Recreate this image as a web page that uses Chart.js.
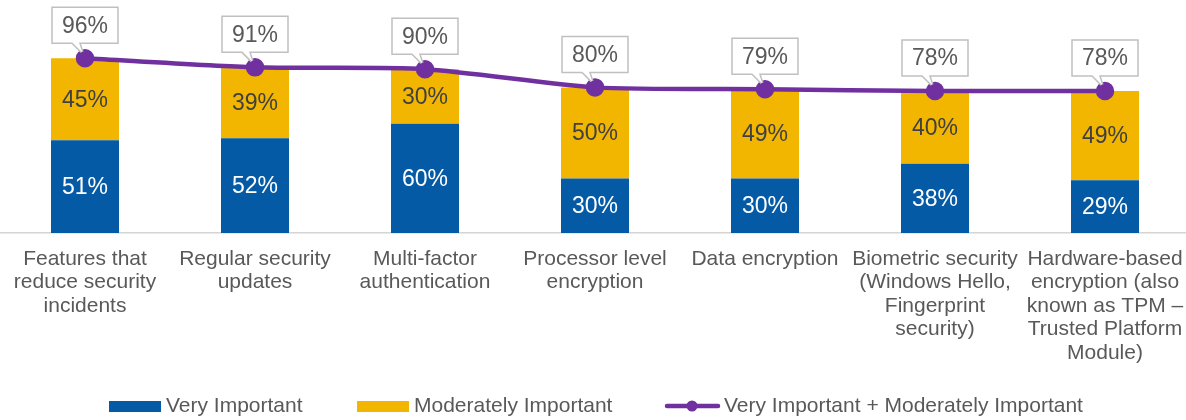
<!DOCTYPE html>
<html>
<head>
<meta charset="utf-8">
<script src="https://cdn.jsdelivr.net/npm/chart.js@4/dist/chart.umd.min.js"></script>
<style>
  html, body { margin: 0; padding: 0; background: #fff; overflow: hidden; }
  #wrap { width: 1190px; height: 420px; position: relative; }
</style>
</head>
<body>
<div id="wrap"><canvas id="c"></canvas></div>
<script>
const categories = [
  ["Features that", "reduce security", "incidents"],
  ["Regular security", "updates"],
  ["Multi-factor", "authentication"],
  ["Processor level", "encryption"],
  ["Data encryption"],
  ["Biometric security", "(Windows Hello,", "Fingerprint", "security)"],
  ["Hardware-based", "encryption (also", "known as TPM –", "Trusted Platform", "Module)"]
];
const veryImportant = [51, 52, 60, 30, 30, 38, 29];
const moderatelyImportant = [45, 39, 30, 50, 49, 40, 49];
const combined = [96, 91, 90, 80, 79, 78, 78];
const seriesNames = ["Very Important", "Moderately Important", "Very Important + Moderately Important"];

const BLUE = '#055AA6', YELLOW = '#F2B600', PURPLE = '#7030A0';
const FONT = '"Liberation Sans", Arial, sans-serif';

const labelsPlugin = {
  id: 'labelsPlugin',
  afterDatasetsDraw(chart) {
    const ctx = chart.ctx;
    ctx.save();
    ctx.font = '23px ' + FONT;
    ctx.textAlign = 'center';
    ctx.textBaseline = 'middle';
    [0, 1].forEach(di => {
      const meta = chart.getDatasetMeta(di);
      const data = chart.data.datasets[di].data;
      meta.data.forEach((el, i) => {
        const cy = (el.y + el.base) / 2;
        ctx.fillStyle = di === 0 ? '#ffffff' : '#404040';
        ctx.fillText(data[i] + '%', el.x, cy + 1);
      });
    });
    const lm = chart.getDatasetMeta(2);
    const ld = chart.data.datasets[2].data;
    lm.data.forEach((pt, i) => {
      const x = pt.x, y = pt.y;
      const w = 66, h = 36;
      const left = x - w / 2, bottom = y - 15, top = bottom - h;
      ctx.beginPath();
      ctx.moveTo(left, top);
      ctx.lineTo(left + w, top);
      ctx.lineTo(left + w, bottom);
      ctx.lineTo(x - 5, bottom);
      ctx.lineTo(x - 1, y - 3);
      ctx.lineTo(x - 13, bottom);
      ctx.lineTo(left, bottom);
      ctx.closePath();
      ctx.fillStyle = '#ffffff';
      ctx.fill();
      ctx.strokeStyle = '#c0c0c0';
      ctx.lineWidth = 1.5;
      ctx.stroke();
      ctx.fillStyle = '#595959';
      ctx.fillText(ld[i] + '%', x, top + h / 2 + 1);
    });
    lm.data.forEach(pt => {
      ctx.beginPath();
      ctx.arc(pt.x, pt.y, 7, 0, Math.PI * 2);
      ctx.fillStyle = PURPLE;
      ctx.fill();
    });
    ctx.restore();
  },
  afterDraw(chart) {
    const ctx = chart.ctx;
    ctx.save();
    ctx.font = '21px ' + FONT;
    ctx.textBaseline = 'middle';
    ctx.textAlign = 'left';
    const ly = 406;
    ctx.fillStyle = BLUE;
    ctx.fillRect(109, 401, 52, 11);
    ctx.fillStyle = '#595959';
    ctx.fillText(seriesNames[0], 166, ly);
    ctx.fillStyle = YELLOW;
    ctx.fillRect(357, 401, 52, 11);
    ctx.fillStyle = '#595959';
    ctx.fillText(seriesNames[1], 414, ly);
    ctx.strokeStyle = PURPLE;
    ctx.lineWidth = 4.5;
    ctx.lineCap = 'round';
    ctx.beginPath();
    ctx.moveTo(667, ly);
    ctx.lineTo(718, ly);
    ctx.stroke();
    ctx.beginPath();
    ctx.arc(692, ly, 5.5, 0, Math.PI * 2);
    ctx.fillStyle = PURPLE;
    ctx.fill();
    ctx.fillStyle = '#595959';
    ctx.fillText(seriesNames[2], 724, ly);
    ctx.restore();
  }
};

new Chart(document.getElementById('c'), {
  data: {
    labels: categories,
    datasets: [
      { type: 'bar', label: seriesNames[0], data: veryImportant, backgroundColor: BLUE, stack: 'bars', order: 2,
        barPercentage: 0.4, categoryPercentage: 1.0 },
      { type: 'bar', label: seriesNames[1], data: moderatelyImportant, backgroundColor: YELLOW, stack: 'bars', order: 2,
        barPercentage: 0.4, categoryPercentage: 1.0 },
      { type: 'line', label: seriesNames[2], data: combined, borderColor: PURPLE, backgroundColor: PURPLE,
        borderWidth: 4.5, pointRadius: 7, pointHoverRadius: 7, tension: 0.25, stack: 'total', order: 0, clip: false }
    ]
  },
  options: {
    responsive: true,
    maintainAspectRatio: false,
    animation: false,
    layout: { padding: 0, autoPadding: false },
    plugins: { legend: { display: false }, tooltip: { enabled: false } },
    scales: {
      x: {
        stacked: true,
        grid: { display: false, drawTicks: false },
        border: { display: true, color: '#d4d4d4', width: 1.5 },
        ticks: { color: '#595959', font: { family: FONT, size: 21, lineHeight: 1.12 }, padding: 14,
                 autoSkip: false, maxRotation: 0, minRotation: 0 },
        afterFit(scale) { scale.height = 187; scale.paddingLeft = 0; scale.paddingRight = 0; }
      },
      y: {
        stacked: true,
        display: false,
        min: 0,
        max: 128
      }
    }
  },
  plugins: [labelsPlugin]
});
</script>
</body>
</html>
